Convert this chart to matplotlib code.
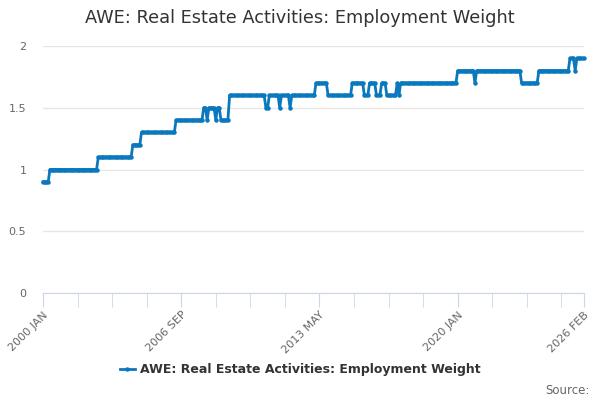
import matplotlib
matplotlib.use('Agg')
import matplotlib.pyplot as plt
import numpy as np

# monthly values, 2000 JAN .. 2026 FEB (314 months), as runs of (value, months)
runs = [
    (0.9, 4), (1.0, 28), (1.1, 20), (1.2, 5), (1.3, 20), (1.4, 16),
    (1.5, 2), (1.4, 1), (1.5, 4), (1.4, 1), (1.5, 2), (1.4, 5),
    (1.6, 21), (1.5, 2), (1.6, 6), (1.5, 1), (1.6, 5), (1.5, 1), (1.6, 14),
    (1.7, 7), (1.6, 14), (1.7, 7), (1.6, 3), (1.7, 4), (1.6, 3), (1.7, 3),
    (1.6, 6), (1.7, 1), (1.6, 1), (1.7, 33),
    (1.8, 10), (1.7, 1), (1.8, 26), (1.7, 10), (1.8, 18),
    (1.9, 3), (1.8, 1), (1.9, 5),
]
values = []
for v, n in runs:
    values += [v] * n
values = values[:314]

tick_pos = [0, 80, 160, 240, 313]
tick_labels = ['2000 JAN', '2006 SEP', '2013 MAY', '2020 JAN', '2026 FEB']
series_name = 'AWE: Real Estate Activities: Employment Weight'
blue = '#0a78be'

fig = plt.figure(figsize=(6, 4), dpi=100)
ax = fig.add_axes([0.0717, 0.2675, 0.9013, 0.6175])
x = np.arange(len(values))
ax.plot(x, values, color=blue, lw=2, marker='o', ms=2.2, clip_on=False,
        label=series_name)

ax.set_xlim(0, 313)
ax.set_ylim(0, 2)
ax.set_yticks([0, 0.5, 1, 1.5, 2])
ax.set_yticklabels(['0', '0.5', '1', '1.5', '2'])
ax.grid(axis='y', color='#e6e6e6', lw=1)
ax.set_axisbelow(True)
for s in ['top', 'right', 'left']:
    ax.spines[s].set_visible(False)
ax.spines['bottom'].set_color('#ccd6eb')
ax.tick_params(axis='y', length=0, labelsize=8, labelcolor='#666666', pad=12)

minor = list(range(0, 313, 20)) + [313]
ax.set_xticks(minor, minor=True)
ax.set_xticks(tick_pos)
ax.set_xticklabels(tick_labels, rotation=45, ha='right', rotation_mode='anchor')
ax.tick_params(axis='x', which='both', length=10, color='#ccd6eb',
               labelsize=8, labelcolor='#666666')
ax.tick_params(axis='x', which='major', pad=2)

fig.text(0.5, 0.955, series_name, ha='center', va='center',
         fontsize=12.8, color='#333333')
leg = ax.legend(loc='center', bbox_to_anchor=(0.5, 0.075),
                bbox_transform=fig.transFigure, frameon=False,
                prop={'weight': 'bold', 'size': 9}, handlelength=1.2,
                handletextpad=0.4)
for t in leg.get_texts():
    t.set_color('#333333')
fig.text(0.982, 0.025, 'Source:', ha='right', va='center', fontsize=8.5,
         color='#666666')

fig.savefig('out.png', dpi=100)
